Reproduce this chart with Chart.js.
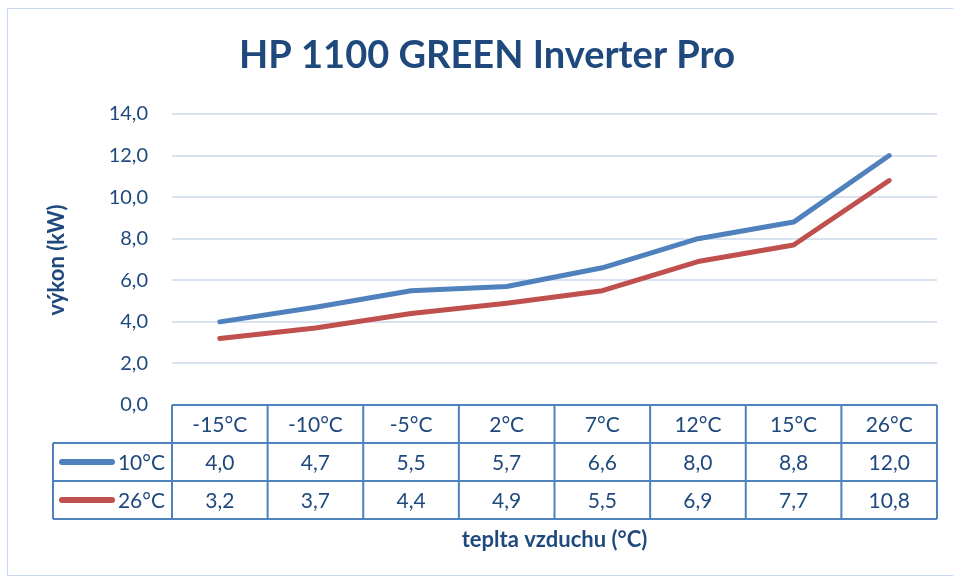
<!DOCTYPE html>
<html>
<head>
<meta charset="utf-8">
<script src="https://cdn.jsdelivr.net/npm/chart.js@4.4.1/dist/chart.umd.min.js"></script>
<style>
    html, body { margin: 0; padding: 0; background: #fff; }
    #wrap { width: 953px; height: 580px; position: relative; }
</style>
</head>
<body>
<div id="wrap"><canvas id="chart"></canvas></div>
<script>
// data
const categories = ['-15°C', '-10°C', '-5°C', '2°C', '7°C', '12°C', '15°C', '26°C'];
const seriesNames = ['10°C', '26°C'];
const values10 = [4.0, 4.7, 5.5, 5.7, 6.6, 8.0, 8.8, 12.0];
const values26 = [3.2, 3.7, 4.4, 4.9, 5.5, 6.9, 7.7, 10.8];
const yMin = 0;
const yMax = 14;
const yStep = 2;

const titleText = 'HP 1100 GREEN Inverter Pro';
const yTitleText = 'výkon (kW)';
const xTitleText = 'teplta vzduchu (°C)';

const navy = '#1F497D';
const blue = '#4F81BD';
const red = '#C0504D';
const fontFamily = 'Lato, "Open Sans", sans-serif';

const rowHeight = 38;
const legendLeft = 53;

function fmt(v) {
    return v.toFixed(1).replace('.', ',');
}

const dataTablePlugin = {
    id: 'dataTable',
    afterDraw(chart) {
        const ctx = chart.ctx;
        const area = chart.chartArea;
        const xScale = chart.scales.x;
        const bandWidth = (area.right - area.left) / categories.length;
        const top = area.bottom;

        ctx.save();

        // outer chart border
        ctx.strokeStyle = '#C6D9F1';
        ctx.lineWidth = 1;
        ctx.strokeRect(7.5, 8.5, 960, 567);

        // title
        ctx.fillStyle = navy;
        ctx.font = `bold 38px ${fontFamily}`;
        ctx.textAlign = 'center';
        ctx.textBaseline = 'middle';
        ctx.fillText(titleText, 487, 56);

        // y axis title
        ctx.save();
        ctx.translate(57, 260);
        ctx.rotate(-Math.PI / 2);
        ctx.font = `bold 22px ${fontFamily}`;
        ctx.fillText(yTitleText, 0, 0);
        ctx.restore();

        // table grid
        ctx.strokeStyle = blue;
        ctx.lineWidth = 2;
        ctx.beginPath();
        ctx.moveTo(area.left, top);
        ctx.lineTo(area.right, top);
        for (let r = 1; r <= 3; r++) {
            ctx.moveTo(legendLeft, top + r * rowHeight);
            ctx.lineTo(area.right, top + r * rowHeight);
        }
        for (let c = 0; c <= categories.length; c++) {
            const x = area.left + c * bandWidth;
            ctx.moveTo(x, top);
            ctx.lineTo(x, top + 3 * rowHeight);
        }
        ctx.moveTo(legendLeft, top + rowHeight);
        ctx.lineTo(legendLeft, top + 3 * rowHeight);
        ctx.stroke();

        // table text
        ctx.font = `21px ${fontFamily}`;
        ctx.fillStyle = navy;
        ctx.textAlign = 'center';
        categories.forEach((cat, i) => {
            const x = xScale.getPixelForValue(i);
            ctx.fillText(cat, x, top + rowHeight / 2 + 1);
        });

        const rows = [values10, values26];
        const colors = [blue, red];
        rows.forEach((vals, r) => {
            const y = top + (r + 1.5) * rowHeight + 1;
            vals.forEach((v, i) => {
                ctx.fillText(fmt(v), xScale.getPixelForValue(i), y);
            });
            ctx.strokeStyle = colors[r];
            ctx.lineWidth = 6;
            ctx.lineCap = 'round';
            ctx.beginPath();
            ctx.moveTo(62, y - 1);
            ctx.lineTo(112, y - 1);
            ctx.stroke();
            ctx.textAlign = 'right';
            ctx.fillText(seriesNames[r], 165, y);
            ctx.textAlign = 'center';
        });

        // x axis title
        ctx.font = `bold 22px ${fontFamily}`;
        ctx.fillText(xTitleText, (area.left + area.right) / 2, 540);

        ctx.restore();
    },
};

new Chart(document.getElementById('chart'), {
    type: 'line',
    data: {
        labels: categories,
        datasets: [
            {
                label: seriesNames[0],
                data: values10,
                borderColor: blue,
                backgroundColor: blue,
                borderWidth: 5,
                pointRadius: 0,
                borderCapStyle: 'round',
                borderJoinStyle: 'round',
                tension: 0,
            },
            {
                label: seriesNames[1],
                data: values26,
                borderColor: red,
                backgroundColor: red,
                borderWidth: 5,
                pointRadius: 0,
                borderCapStyle: 'round',
                borderJoinStyle: 'round',
                tension: 0,
            },
        ],
    },
    options: {
        responsive: true,
        maintainAspectRatio: false,
        animation: false,
        layout: {
            padding: { left: 20, right: 16, top: 114, bottom: 175 },
        },
        plugins: {
            legend: { display: false },
            title: { display: false },
            tooltip: { enabled: false },
        },
        scales: {
            x: {
                type: 'category',
                offset: true,
                display: false,
            },
            y: {
                min: yMin,
                max: yMax,
                border: { display: false },
                grid: {
                    color: (c) => (c.tick.value === 0 ? 'rgba(0,0,0,0)' : '#D9E2F1'),
                    lineWidth: 2,
                    drawTicks: false,
                },
                ticks: {
                    stepSize: yStep,
                    padding: 24,
                    color: navy,
                    font: { family: fontFamily, size: 20 },
                    callback: (v) => fmt(v),
                },
                afterFit(scale) {
                    scale.width = 152;
                },
            },
        },
    },
    plugins: [dataTablePlugin],
});
</script>
</body>
</html>
